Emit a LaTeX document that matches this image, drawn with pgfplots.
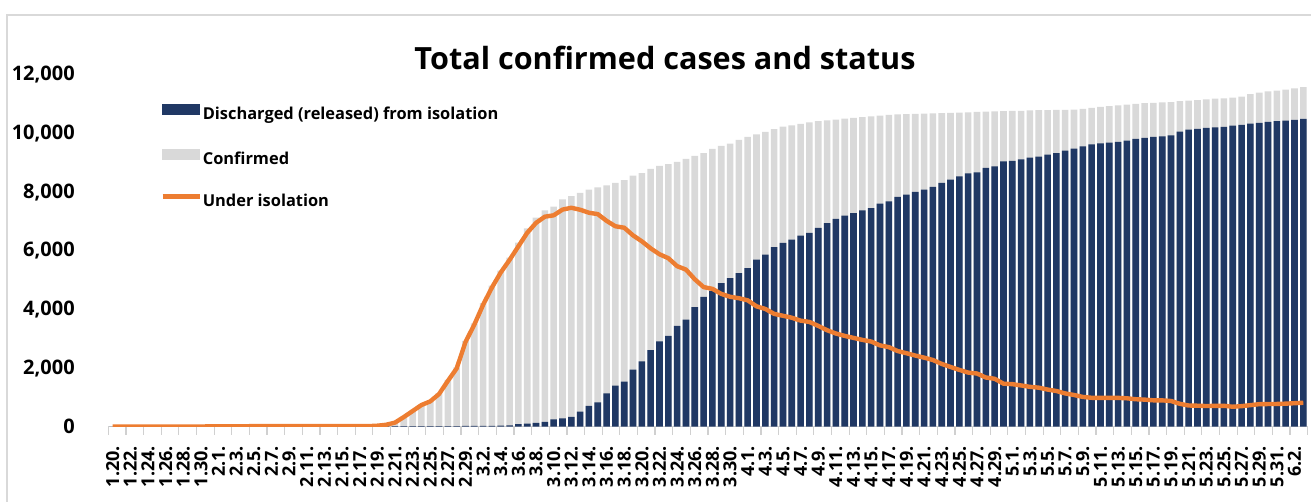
\documentclass[border=0pt]{standalone}
\usepackage{pgfplots}
\pgfplotsset{compat=1.18}
\usepackage{pgfplotstable}
\usepackage{fontspec}
\setmainfont{Open Sans}
\definecolor{navy}{HTML}{203864}
\definecolor{lgray}{HTML}{D9D9D9}
\definecolor{orng}{HTML}{ED7D31}
\definecolor{axgray}{HTML}{D0D0D0}
\pgfplotstableread{
i conf rel iso
0 1 0 1
1 1 0 1
2 1 0 1
3 1 0 1
4 2 0 2
5 2 0 2
6 3 0 3
7 4 0 4
8 4 0 4
9 4 0 4
10 6 0 6
11 11 0 11
12 12 0 12
13 15 0 15
14 15 0 15
15 16 0 16
16 19 1 18
17 23 1 22
18 24 1 23
19 24 1 23
20 27 3 24
21 27 3 24
22 28 4 24
23 28 7 21
24 28 7 21
25 28 7 21
26 28 9 19
27 29 10 19
28 30 10 20
29 31 12 19
30 46 12 34
31 82 16 65
32 156 16 139
33 346 16 328
34 556 18 533
35 763 18 738
36 893 22 863
37 1146 22 1113
38 1595 22 1561
39 2022 22 1987
40 2931 27 2888
41 3526 28 3481
42 4212 30 4160
43 4812 30 4750
44 5328 34 5262
45 5766 41 5690
46 6284 88 6154
47 6767 108 6615
48 7134 130 6954
49 7382 166 7165
50 7513 247 7212
51 7755 288 7407
52 7869 333 7470
53 7979 510 7402
54 8086 714 7300
55 8162 834 7253
56 8236 1137 7024
57 8320 1401 6838
58 8413 1540 6789
59 8565 1947 6527
60 8652 2233 6325
61 8799 2612 6085
62 8897 2909 5884
63 8961 3100 5750
64 9037 3440 5477
65 9137 3650 5361
66 9241 4080 5030
67 9332 4430 4763
68 9478 4630 4704
69 9583 4900 4531
70 9661 5070 4433
71 9786 5240 4384
72 9887 5410 4312
73 9976 5700 4107
74 10062 5870 4018
75 10156 6130 3849
76 10237 6270 3784
77 10284 6380 3718
78 10331 6520 3619
79 10384 6610 3574
80 10423 6780 3439
81 10450 6950 3292
82 10480 7090 3179
83 10512 7200 3098
84 10537 7290 3030
85 10564 7380 2962
86 10591 7460 2906
87 10613 7610 2774
88 10635 7690 2715
89 10653 7840 2581
90 10661 7920 2507
91 10674 8010 2428
92 10683 8090 2356
93 10694 8180 2276
94 10702 8320 2142
95 10708 8430 2038
96 10718 8540 1938
97 10728 8640 1846
98 10738 8680 1815
99 10752 8830 1678
100 10761 8880 1635
101 10765 9050 1468
102 10774 9072 1452
103 10780 9123 1407
104 10793 9183 1360
105 10801 9217 1332
106 10804 9283 1267
107 10806 9333 1218
108 10810 9419 1135
109 10822 9484 1082
110 10840 9568 1016
111 10874 9632 986
112 10909 9670 983
113 10936 9695 983
114 10962 9720 983
115 10991 9762 969
116 11018 9821 937
117 11037 9851 924
118 11050 9888 900
119 11065 9904 898
120 11078 9938 877
121 11110 10066 781
122 11122 10135 723
123 11142 10162 716
124 11165 10194 705
125 11190 10213 711
126 11206 10226 713
127 11225 10275 681
128 11265 10295 701
129 11344 10340 735
130 11402 10363 769
131 11441 10398 773
132 11468 10422 776
133 11503 10446 786
134 11541 10467 802
135 11590 10500 817
}\data
\begin{document}
\begin{tikzpicture}
\useasboundingbox (0,0) rectangle (655.5pt,251pt);
\draw[line width=0.6pt, gray!30] (3.5pt,0pt) -- (3.5pt,243.5pt) -- (655.5pt,243.5pt);
\node[font=\bfseries\fontsize{15.3}{17}\selectfont] at (332.5pt,222pt) {Total confirmed cases and status};
\begin{axis}[
  at={(54.15pt,37.65pt)}, anchor=south west,
  scale only axis, width=599.7pt, height=175.85pt,
  xmin=-0.5, xmax=135.5, ymin=0, ymax=12000,
  scaled y ticks=false,
  axis x line*=bottom, axis y line*=left,
  y axis line style={draw=none},
  x axis line style={axgray, line width=0.8pt},
  tick align=outside,
  ytick={0,2000,...,12000},
  yticklabels={0,{2,000},{4,000},{6,000},{8,000},{10,000},{12,000}},
  ytick style={draw=none},
  yticklabel style={font=\bfseries\fontsize{10}{12}\selectfont, anchor=east, inner sep=0pt},
  yticklabel shift=16.6pt,
  xtick={0,2,...,134},
  xticklabels={1.20.,1.22.,1.24.,1.26.,1.28.,1.30.,2.1.,2.3.,2.5.,2.7.,2.9.,2.11.,2.13.,2.15.,2.17.,2.19.,2.21.,2.23.,2.25.,2.27.,2.29.,3.2.,3.4.,3.6.,3.8.,3.10.,3.12.,3.14.,3.16.,3.18.,3.20.,3.22.,3.24.,3.26.,3.28.,3.30.,4.1.,4.3.,4.5.,4.7.,4.9.,4.11.,4.13.,4.15.,4.17.,4.19.,4.21.,4.23.,4.25.,4.27.,4.29.,5.1.,5.3.,5.5.,5.7.,5.9.,5.11.,5.13.,5.15.,5.17.,5.19.,5.21.,5.23.,5.25.,5.27.,5.29.,5.31.,6.2.},
  major x tick style={draw=none},
  major tick length=0pt,
  minor xtick={-0.5,1.5,...,135.5},
  minor x tick style={axgray, line width=0.6pt},
  minor tick length=4pt,
  xticklabel style={font=\bfseries\fontsize{9}{10}\selectfont, rotate=90, anchor=east, inner sep=0pt},
  xticklabel shift=9.5pt,
  legend style={at={(0.0431,0.92)}, anchor=north west, draw=none, fill=none,
    font=\bfseries\fontsize{8.2}{9}\selectfont, row sep=13.3pt, column sep=0.5pt, inner sep=0pt,
    nodes={inner sep=0pt, text height=6pt, text depth=1.5pt}},
  legend cell align=left,
]
\addplot[ybar, bar shift=0pt, bar width=3.3pt, fill=lgray, draw=none, forget plot] table[x=i,y=conf]{\data};
\addplot[ybar, bar shift=0pt, bar width=3.3pt, fill=navy, draw=none, forget plot] table[x=i,y=rel]{\data};
\addplot[orng, line width=2.2pt, line join=round, mark=none, forget plot] table[x=i,y=iso]{\data};
\addlegendimage{legend image code/.code={\fill[navy] (0pt,0.4pt) rectangle (18.5pt,5.4pt);}}
\addlegendentry{Discharged (released) from isolation}
\addlegendimage{legend image code/.code={\fill[lgray] (0pt,0.4pt) rectangle (18.5pt,5.4pt);}}
\addlegendentry{Confirmed}
\addlegendimage{legend image code/.code={\draw[orng, line width=2.2pt] (0pt,2.9pt) -- (18.5pt,2.9pt);}}
\addlegendentry{Under isolation}
\end{axis}
\end{tikzpicture}
\end{document}
